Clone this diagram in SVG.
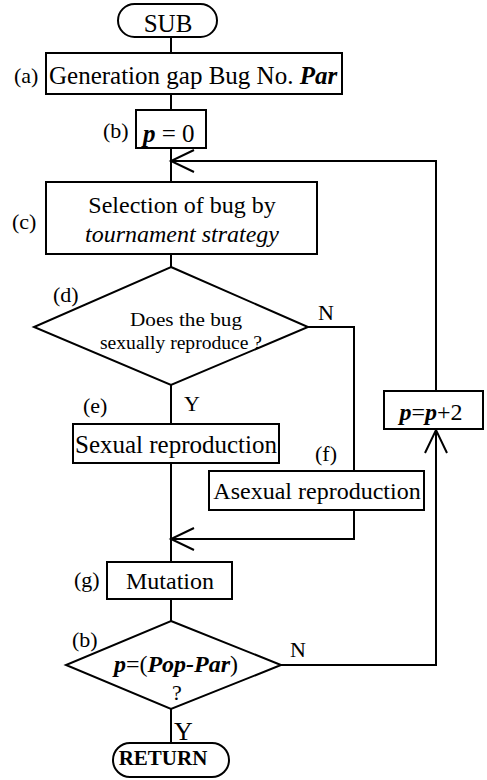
<svg xmlns="http://www.w3.org/2000/svg" width="487" height="780" viewBox="0 0 487 780">
<style>
.s{fill:none;stroke:#000;stroke-width:2}
.b{fill:#fff;stroke:#000;stroke-width:2}
text{font-family:"Liberation Serif","Times New Roman",serif;fill:#000}
.t{font-size:24px}
.l{font-size:22px}
.m{text-anchor:middle}
.bi{font-weight:bold;font-style:italic}
.q{font-size:19.5px}
</style>
<defs>
<marker id="ah" markerUnits="userSpaceOnUse" viewBox="-25 -13 28 26" refX="0" refY="0" markerWidth="28" markerHeight="26" orient="auto">
<path d="M-23,-11 L0,0 L-23,11" fill="none" stroke="#000" stroke-width="2"/>
</marker>
</defs>
<g id="connectors">
<path class="s" d="M171,37 V53"/>
<path class="s" d="M171,94 V110"/>
<path class="s" d="M171,148 V182"/>
<path class="s" d="M171,254 V267"/>
<path class="s" d="M171,385 V424"/>
<path class="s" d="M171,463 V562"/>
<path class="s" d="M171,599 V621"/>
<path class="s" d="M171,709 V743"/>
<path class="s" d="M436,391 V161 H171" marker-end="url(#ah)"/>
<path class="s" d="M308,327 H354 V471"/>
<path class="s" d="M354,510 V539 H171" marker-end="url(#ah)"/>
<path class="s" d="M281,665 H436 V430" marker-end="url(#ah)"/>
<text class="l" x="318" y="320">N</text>
<text class="l" x="184" y="411">Y</text>
<text class="l" x="290" y="657">N</text>
<text x="174" y="740" style="font-size:26px">Y</text>
</g>
<g id="sub">
<rect class="b" x="118" y="4" width="99" height="33" rx="16.5"/>
<text class="t m" x="168" y="32" style="font-size:25px">SUB</text>
</g>
<g id="a">
<rect class="b" x="46" y="53" width="296" height="41"/>
<text class="l" x="14" y="83">(a)</text>
<text class="t" x="49" y="84" style="font-size:25px">Generation gap Bug No. <tspan class="bi">Par</tspan></text>
</g>
<g id="b1">
<rect class="b" x="136" y="110" width="70" height="38"/>
<text class="l" x="103" y="138">(b)</text>
<text class="t" x="143" y="142" style="font-size:25px"><tspan class="bi">p</tspan> = 0</text>
</g>
<g id="c">
<rect class="b" x="46" y="182" width="271" height="72"/>
<text class="l" x="12" y="229">(c)</text>
<text class="t m" x="182" y="213">Selection of bug by</text>
<text class="t m" x="182" y="242" font-style="italic">tournament strategy</text>
</g>
<g id="d">
<polygon class="b" points="171,267 308,327 171,385 34,327"/>
<text class="l" x="53" y="302">(d)</text>
<text class="q" x="130" y="326" textLength="112" lengthAdjust="spacingAndGlyphs">Does the bug</text>
<text class="q" x="100" y="349" textLength="162" lengthAdjust="spacingAndGlyphs">sexually reproduce ?</text>
</g>
<g id="e">
<rect class="b" x="73" y="424" width="206" height="39"/>
<text class="l" x="83" y="413">(e)</text>
<text class="t m" x="176" y="453" style="font-size:25px">Sexual reproduction</text>
</g>
<g id="f">
<rect class="b" x="209" y="471" width="215" height="39"/>
<text class="l" x="315" y="461">(f)</text>
<text class="t m" x="317" y="499">Asexual reproduction</text>
</g>
<g id="g">
<rect class="b" x="107" y="562" width="125" height="37"/>
<text class="l" x="74" y="587">(g)</text>
<text class="t m" x="170" y="589">Mutation</text>
</g>
<g id="b2">
<polygon class="b" points="171,621 281,665 171,709 66,665"/>
<text class="l" x="72" y="647">(b)</text>
<text class="t m bi" x="176" y="672"><tspan>p</tspan><tspan font-weight="normal" font-style="normal">=(</tspan>Pop-Par<tspan font-weight="normal" font-style="normal">)</tspan></text>
<text class="l m" x="177" y="700">?</text>
</g>
<g id="inc">
<rect class="b" x="384" y="391" width="99" height="38"/>
<text class="t m" x="431" y="420"><tspan class="bi">p</tspan>=<tspan class="bi">p</tspan>+2</text>
</g>
<g id="ret">
<rect class="b" x="113" y="743" width="116" height="34" rx="17"/>
<text class="m" x="163" y="765" style="font-size:21px;font-weight:bold">RETURN</text>
</g>
</svg>
